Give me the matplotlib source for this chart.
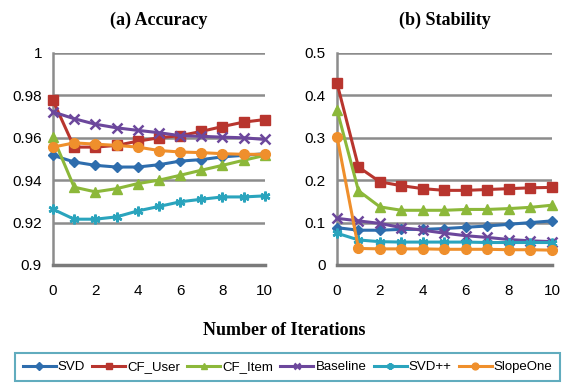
import matplotlib
matplotlib.use("Agg")
import matplotlib.pyplot as plt

iterations = list(range(11))
series_names = ["SVD", "CF_User", "CF_Item", "Baseline", "SVD++", "SlopeOne"]

acc_svd = [0.9517, 0.9486, 0.947, 0.9462, 0.9462, 0.9473, 0.949, 0.9497, 0.951, 0.9517, 0.9525]
acc_cfuser = [0.9776, 0.9556, 0.9556, 0.9564, 0.9584, 0.960, 0.961, 0.963, 0.9653, 0.9674, 0.9686]
acc_cfitem = [0.9603, 0.9367, 0.9345, 0.936, 0.9384, 0.940, 0.9423, 0.9447, 0.947, 0.9494, 0.9517]
acc_baseline = [0.9722, 0.969, 0.9664, 0.9647, 0.9635, 0.9624, 0.961, 0.9607, 0.9603, 0.960, 0.9592]
acc_svdpp = [0.9263, 0.9216, 0.9216, 0.9227, 0.9255, 0.9276, 0.9298, 0.931, 0.9321, 0.9321, 0.9326]
acc_slopeone = [0.9556, 0.9576, 0.957, 0.9564, 0.9556, 0.954, 0.9533, 0.953, 0.9525, 0.9522, 0.9522]

stab_svd = [0.088, 0.082, 0.082, 0.084, 0.084, 0.086, 0.089, 0.092, 0.096, 0.100, 0.104]
stab_cfuser = [0.429, 0.231, 0.196, 0.187, 0.180, 0.176, 0.176, 0.178, 0.180, 0.182, 0.183]
stab_cfitem = [0.366, 0.175, 0.137, 0.129, 0.129, 0.129, 0.131, 0.131, 0.133, 0.136, 0.141]
stab_baseline = [0.110, 0.104, 0.098, 0.088, 0.082, 0.075, 0.069, 0.065, 0.060, 0.057, 0.055]
stab_svdpp = [0.075, 0.059, 0.055, 0.054, 0.054, 0.054, 0.054, 0.053, 0.053, 0.053, 0.053]
stab_slopeone = [0.303, 0.039, 0.038, 0.038, 0.038, 0.037, 0.037, 0.037, 0.036, 0.036, 0.035]

acc_ticks = [0.9, 0.92, 0.94, 0.96, 0.98, 1.0]
acc_ticklabels = ["0.9", "0.92", "0.94", "0.96", "0.98", "1"]
stab_ticks = [0, 0.1, 0.2, 0.3, 0.4, 0.5]
stab_ticklabels = ["0", "0.1", "0.2", "0.3", "0.4", "0.5"]
x_ticks = [0, 2, 4, 6, 8, 10]

colors = ["#2E6DAD", "#B8352E", "#8CB83A", "#6C479C", "#2AA4BD", "#EF8F2C"]
markers = ["D", "s", "^", "x", (6, 2, 0), "o"]
msizes = [5.5, 7, 6.5, 7, 7, 7]

tick_font = ["Liberation Sans", "DejaVu Sans"]
title_font = ["Liberation Serif", "DejaVu Serif"]

fig = plt.figure(figsize=(5.68, 3.89), dpi=100)
ax1 = fig.add_axes([0.0933, 0.3188, 0.373, 0.545])
ax2 = fig.add_axes([0.5933, 0.3188, 0.3785, 0.545])

acc_data = [acc_svd, acc_cfuser, acc_cfitem, acc_baseline, acc_svdpp, acc_slopeone]
stab_data = [stab_svd, stab_cfuser, stab_cfitem, stab_baseline, stab_svdpp, stab_slopeone]

def style(ax, ticks, labels, ylim, title):
    ax.set_xlim(0, 10)
    ax.set_ylim(*ylim)
    ax.set_yticks(ticks)
    ax.set_yticklabels(labels, fontfamily=tick_font, fontsize=11)
    ax.set_xticks(x_ticks)
    ax.set_xticklabels([str(t) for t in x_ticks], fontfamily=tick_font, fontsize=11)
    ax.tick_params(axis="x", length=0, pad=14)
    ax.tick_params(axis="y", length=0, pad=8)
    ax.grid(axis="y", color="#8C8C8C", linewidth=1.8)
    ax.set_axisbelow(True)
    for s in ["top", "right"]:
        ax.spines[s].set_visible(False)
    ax.spines["left"].set_color("#8C8C8C")
    ax.spines["left"].set_linewidth(1.8)
    ax.spines["bottom"].set_color("#7A7A7A")
    ax.spines["bottom"].set_linewidth(2.5)
    ax.set_title(title, fontfamily=title_font, fontweight="bold", fontsize=13, pad=20)

handles = []
for ax, data in [(ax1, acc_data), (ax2, stab_data)]:
    for i, ys in enumerate(data):
        thin = markers[i] == "x" or isinstance(markers[i], tuple)
        (h,) = ax.plot(iterations, ys, color=colors[i], linewidth=2.2, marker=markers[i],
                       markersize=msizes[i], markeredgewidth=1.8 if thin else 1,
                       markeredgecolor=colors[i], clip_on=False, zorder=3 + i * 0.1,
                       label=series_names[i])
        if ax is ax1:
            handles.append(h)

style(ax1, acc_ticks, acc_ticklabels, (0.9, 1.0), "(a) Accuracy")
style(ax2, stab_ticks, stab_ticklabels, (0, 0.5), "(b) Stability")

fig.text(0.5, 0.15, "Number of Iterations", ha="center", va="center",
         fontfamily=title_font, fontweight="bold", fontsize=13)

leg = fig.legend(handles=handles, labels=series_names, loc="upper left",
                 bbox_to_anchor=(0.026, 0.0925), ncol=6, frameon=True, fancybox=False,
                 edgecolor="#3A97AE", borderaxespad=0, handlelength=2.5,
                 handletextpad=0.15, columnspacing=0.55, borderpad=0.6,
                 prop={"family": tick_font, "size": 9.5}, markerscale=0.7)
leg.get_frame().set_linewidth(1.5)

fig.savefig("out.png", dpi=100)
